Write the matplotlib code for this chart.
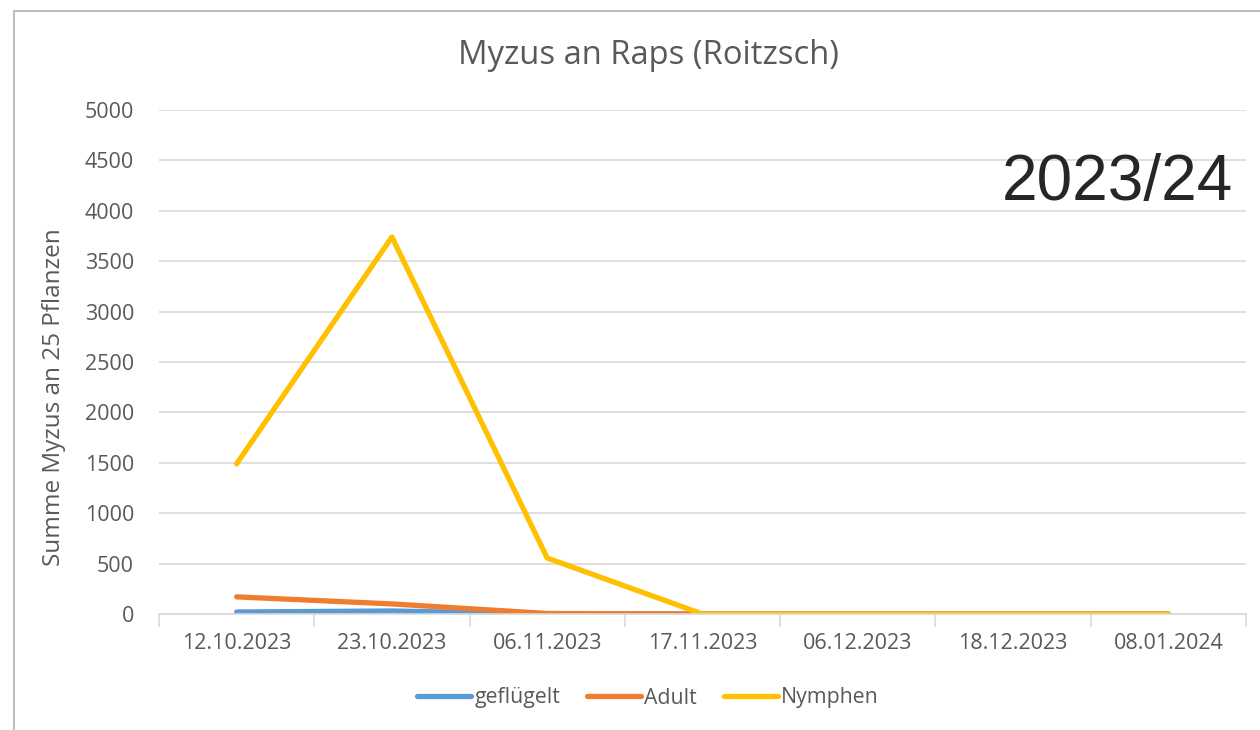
import matplotlib.pyplot as plt
from matplotlib.patches import Rectangle
import numpy as np

plt.rcParams['font.family'] = ['Open Sans', 'DejaVu Sans']

dates = ['12.10.2023', '23.10.2023', '06.11.2023', '17.11.2023',
         '06.12.2023', '18.12.2023', '08.01.2024']
gefluegelt = [20, 30, 0, 0, 0, 0, 0]
adult = [170, 100, 5, 0, 0, 0, 0]
nymphen = [1490, 3740, 555, 0, 0, 0, 0]

colors = ['#5b9bd5', '#ed7d31', '#ffc000']
text_col = '#595959'

fig = plt.figure(figsize=(12.6, 7.3), dpi=100)
ax = fig.add_axes([159 / 1260, 1 - 614 / 730, 1087 / 1260, 504 / 730])

# chart border (cut off on right and bottom like the screenshot)
fig.patches.append(Rectangle((14 / 1260, -0.1), 1.2, 1 - 11 / 730 + 0.1,
                             transform=fig.transFigure, fill=False,
                             edgecolor='#bfbfbf', linewidth=1.5))

x = np.arange(len(dates))
ax.plot(x, gefluegelt, color=colors[0], lw=3.8, solid_capstyle='round', label='geflügelt')
ax.plot(x, adult, color=colors[1], lw=3.8, solid_capstyle='round', label='Adult')
ax.plot(x, nymphen, color=colors[2], lw=3.8, solid_capstyle='round', label='Nymphen')

ax.set_xlim(-0.5, len(dates) - 0.5)
ax.set_ylim(0, 5000)
ax.set_yticks(range(0, 5001, 500))
ax.set_xticks(x)
ax.set_xticklabels(dates)
ax.set_xticks(np.arange(-0.5, len(dates), 1), minor=True)
ax.tick_params(axis='x', which='major', length=0, pad=14, labelsize=15.5, labelcolor=text_col)
ax.tick_params(axis='x', which='minor', length=9, width=1.2, color='#d9d9d9')
ax.tick_params(axis='y', length=0, pad=18, labelsize=15.5, labelcolor=text_col)

ax.grid(axis='y', color='#d9d9d9', lw=1.2)
ax.set_axisbelow(True)
for side in ['top', 'right', 'left']:
    ax.spines[side].set_visible(False)
ax.spines['bottom'].set_color('#d9d9d9')
ax.spines['bottom'].set_linewidth(1.2)

ax.set_ylabel('Summe Myzus an 25 Pflanzen', fontsize=17.5, color=text_col, va='center')
ax.yaxis.set_label_coords(-(159 - 54) / 1087, (614 - 397) / 504)
fig.text(648 / 1260, 1 - 56 / 730, 'Myzus an Raps (Roitzsch)', ha='center', va='center',
         fontsize=23.6, color=text_col)
fig.text(1233 / 1260, 1 - 183 / 730, '2023/24', ha='right', va='center',
         fontsize=46, color='#262626', family='Liberation Sans')

fig.legend(loc='center', bbox_to_anchor=(648 / 1260, 1 - 698 / 730), ncol=3,
           frameon=False, fontsize=15.3, labelcolor=text_col, handlelength=2.55,
           handletextpad=0.15, columnspacing=1.25)

fig.savefig('out.png', dpi=100)
